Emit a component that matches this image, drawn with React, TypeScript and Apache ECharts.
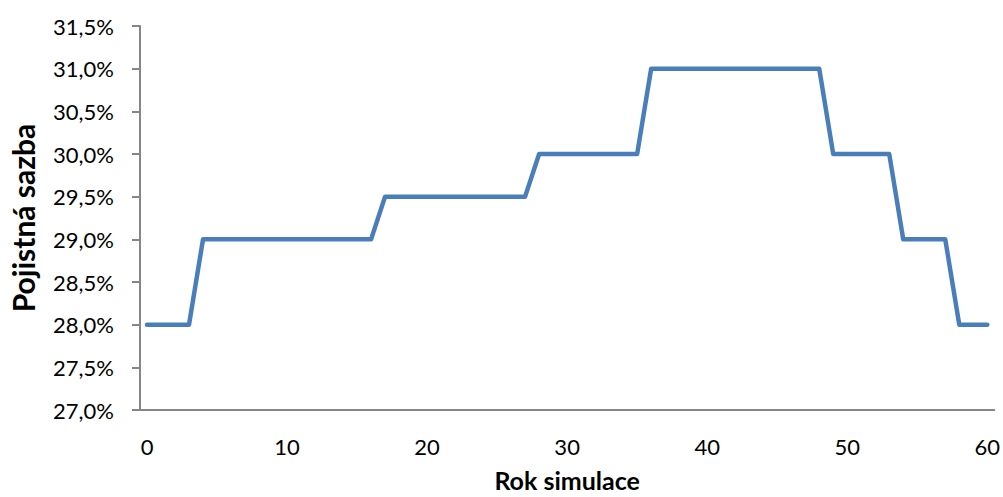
import React, { useEffect, useRef } from "react";
import * as echarts from "echarts";

// Simulation years 0..60
const years: string[] = Array.from({ length: 61 }, (_, i) => String(i));

// Premium rate (%) per simulation year
const rates: number[] = [
  28.0, 28.0, 28.0, 28.0,
  29.0, 29.0, 29.0, 29.0, 29.0, 29.0, 29.0, 29.0, 29.0, 29.0, 29.0, 29.0, 29.0,
  29.5, 29.5, 29.5, 29.5, 29.5, 29.5, 29.5, 29.5, 29.5, 29.5, 29.5,
  30.0, 30.0, 30.0, 30.0, 30.0, 30.0, 30.0, 30.0,
  31.0, 31.0, 31.0, 31.0, 31.0, 31.0, 31.0, 31.0, 31.0, 31.0, 31.0, 31.0, 31.0,
  30.0, 30.0, 30.0, 30.0, 30.0,
  29.0, 29.0, 29.0, 29.0,
  28.0, 28.0, 28.0,
];

const yMin = 27.0;
const yMax = 31.5;
const yStep = 0.5;

const FONT = "Lato, 'Open Sans', sans-serif";

export default function App() {
  const ref = useRef<HTMLDivElement>(null);

  useEffect(() => {
    document.body.style.margin = "0";
    if (!ref.current) return;
    const chart = echarts.init(ref.current, undefined, { renderer: "svg" });
    chart.setOption({
      animation: false,
      backgroundColor: "#ffffff",
      grid: { left: 138, right: 7, top: 26, bottom: 82 },
      xAxis: {
        type: "category",
        data: years,
        boundaryGap: true,
        name: "Rok simulace",
        nameLocation: "middle",
        nameGap: 57,
        nameTextStyle: { fontFamily: FONT, fontSize: 25, fontWeight: "bold", color: "#000" },
        axisLine: { lineStyle: { color: "#868686", width: 2 } },
        axisTick: { show: false },
        axisLabel: {
          interval: 9,
          margin: 25,
          fontFamily: FONT,
          fontSize: 22,
          color: "#000",
        },
        splitLine: { show: false },
      },
      yAxis: {
        type: "value",
        min: yMin,
        max: yMax,
        interval: yStep,
        name: "Pojistná sazba",
        nameLocation: "middle",
        nameGap: 102,
        nameTextStyle: { fontFamily: FONT, fontSize: 30, fontWeight: "bold", color: "#000" },
        axisLine: { show: true, lineStyle: { color: "#868686", width: 2 } },
        axisTick: { show: true, length: 8, inside: false, lineStyle: { color: "#868686", width: 2 } },
        axisLabel: {
          margin: 26,
          fontFamily: FONT,
          fontSize: 22,
          color: "#000",
          formatter: (v: number) => v.toFixed(1).replace(".", ",") + "%",
        },
        splitLine: { show: false },
      },
      series: [
        {
          type: "line",
          data: rates,
          symbol: "none",
          lineStyle: { color: "#4A7EBB", width: 4.5, cap: "round", join: "round" },
        },
      ],
    });
    return () => chart.dispose();
  }, []);

  return <div ref={ref} style={{ width: 1003, height: 497 }} />;
}
